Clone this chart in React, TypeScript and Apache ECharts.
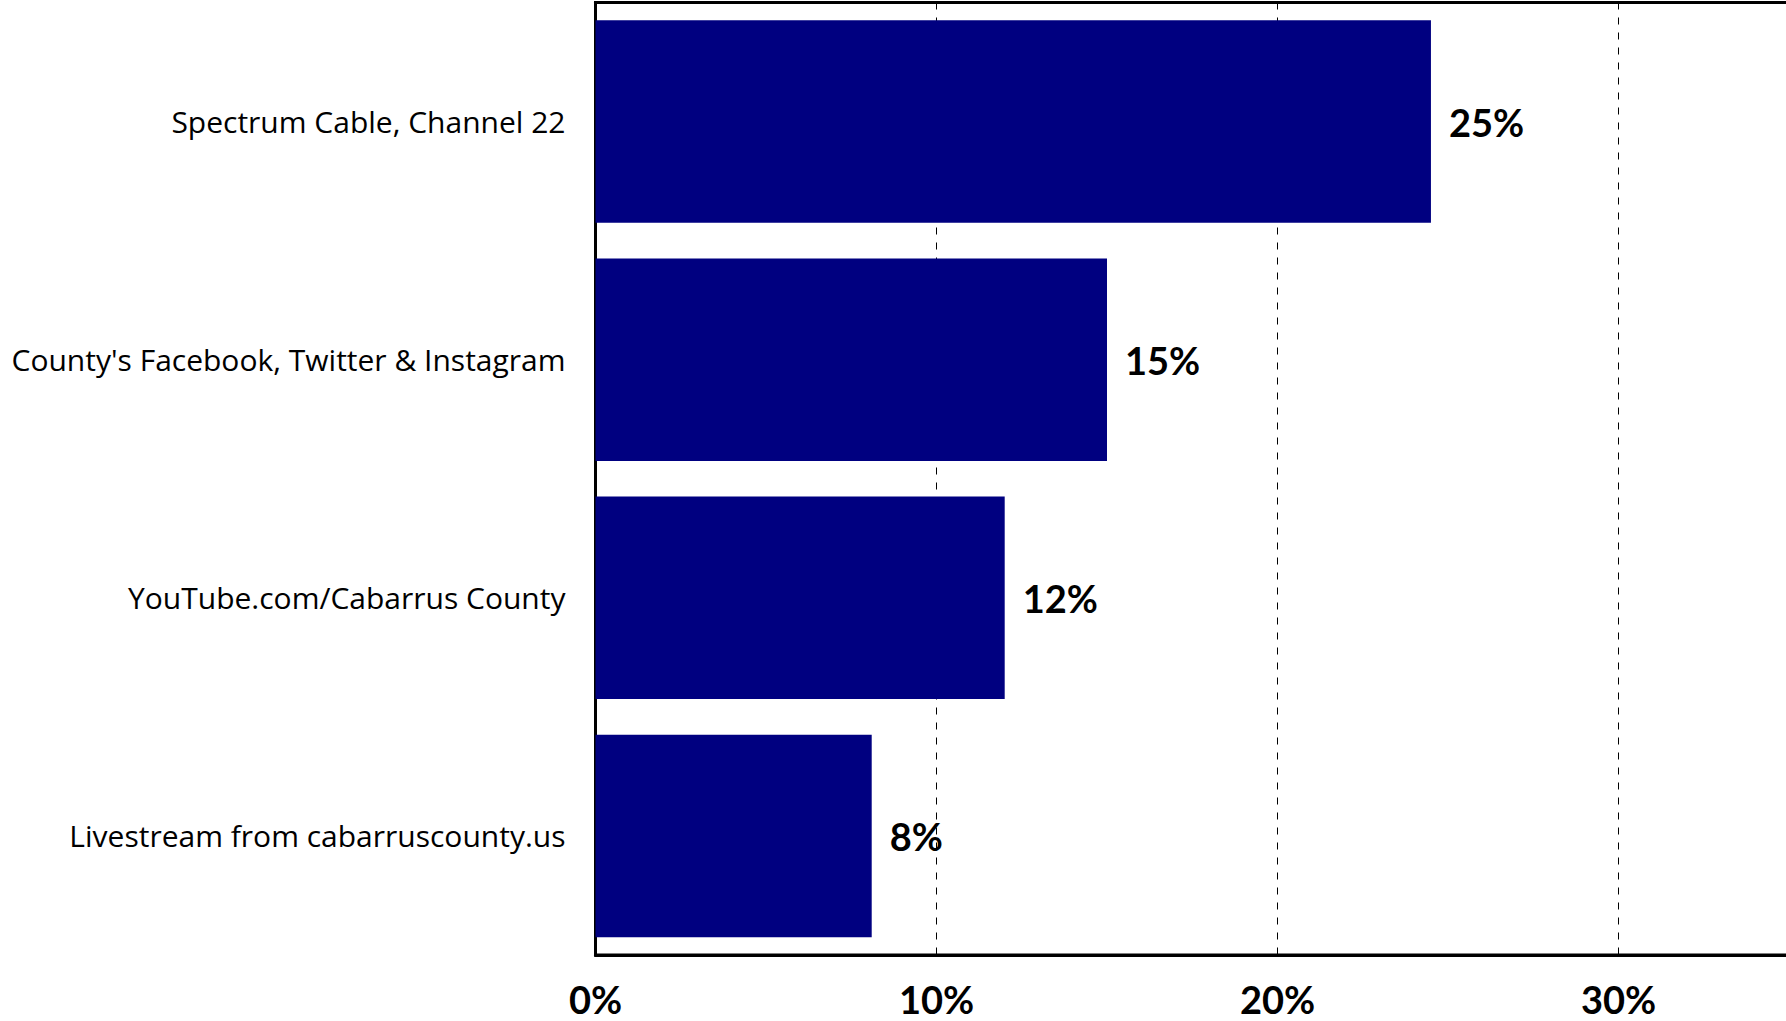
import React, { useEffect, useRef } from "react";
import * as echarts from "echarts";

const categories = [
  "Spectrum Cable, Channel 22",
  "County's Facebook, Twitter & Instagram",
  "YouTube.com/Cabarrus County",
  "Livestream from cabarruscounty.us",
];
const values = [24.5, 15.0, 12.0, 8.1];
const xTicks = [0, 10, 20, 30];

export default function App() {
  const ref = useRef<HTMLDivElement>(null);
  useEffect(() => {
    if (!ref.current) return;
    document.body.style.overflow = "hidden";
    const chart = echarts.init(ref.current, null, { renderer: "svg" });
    const labelFont = "'Open Sans', Lato, sans-serif";
    const boldFont = "Lato, 'Open Sans', sans-serif";
    chart.setOption({
      animation: false,
      backgroundColor: "#ffffff",
      grid: {
        left: 595.5,
        right: 11,
        top: 2.5,
        bottom: 66,
        show: true,
        borderColor: "#000000",
        borderWidth: 3,
        backgroundColor: "transparent",
      },
      xAxis: {
        type: "value",
        min: 0,
        max: 35,
        interval: 10,
        axisLine: { show: true, lineStyle: { color: "#000", width: 3 } },
        axisTick: { show: false },
        splitLine: {
          show: true,
          lineStyle: { color: "#000", width: 1, type: [7, 8] },
        },
        axisLabel: {
          margin: 25,
          fontFamily: boldFont,
          fontSize: 38,
          fontWeight: "bold",
          color: "#000",
          formatter: (v: number) => (xTicks.includes(v) ? v + "%" : ""),
        },
      },
      yAxis: {
        type: "category",
        data: categories,
        inverse: true,
        axisLine: { show: true, lineStyle: { color: "#000", width: 3 } },
        axisTick: { show: false },
        axisLabel: {
          margin: 30,
          fontFamily: labelFont,
          fontSize: 30,
          color: "#000",
        },
      },
      series: [
        {
          type: "bar",
          data: values,
          barCategoryGap: "15%",
          itemStyle: { color: "#000080" },
          label: {
            show: true,
            position: "right",
            distance: 18,
            fontFamily: boldFont,
            fontSize: 38,
            fontWeight: "bold",
            color: "#000",
            formatter: (p: any) => Math.round(p.value) + "%",
          },
        },
      ],
    });
    return () => chart.dispose();
  }, []);
  return (
    <div
      style={{
        position: "absolute",
        left: 0,
        top: 0,
        width: 1786,
        height: 1021,
        overflow: "hidden",
      }}
    >
      <div ref={ref} style={{ width: 1800, height: 1021 }} />
    </div>
  );
}
